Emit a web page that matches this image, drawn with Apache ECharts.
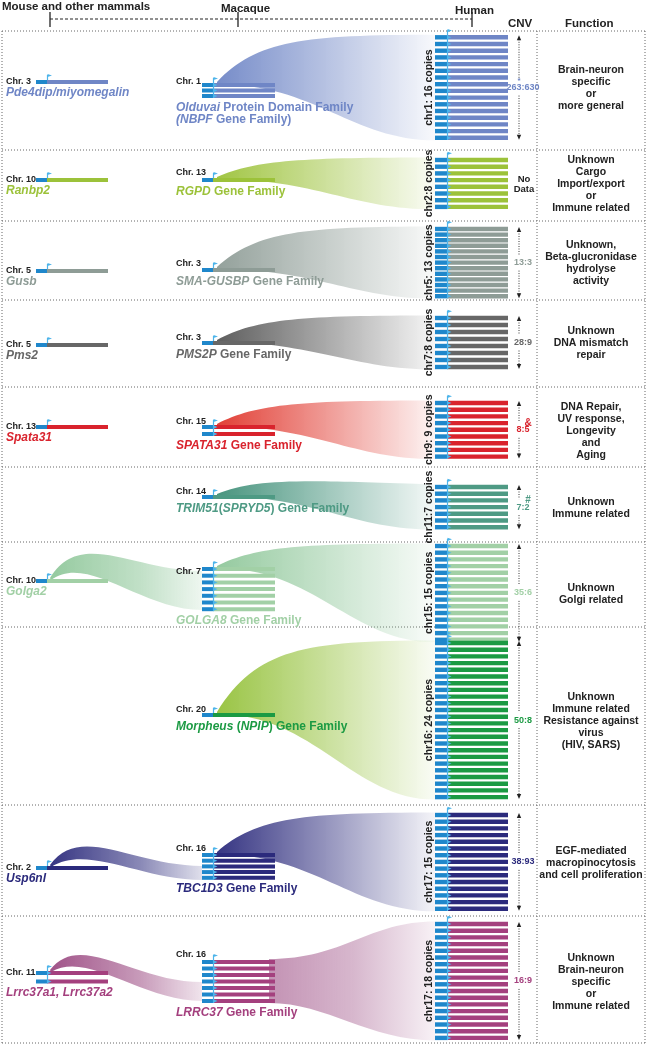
<!DOCTYPE html>
<html><head><meta charset="utf-8">
<script src="https://cdn.jsdelivr.net/npm/echarts@6/dist/echarts.min.js"></script>
<style>html,body{margin:0;padding:0;background:#fff}#c{width:650px;height:1045px}</style>
</head><body><div id="c"></div>
<script>
// ---------------- DATA ----------------
const families = ['NBPF','RGPD','SMA-GUSBP','PMS2P','SPATA31','TRIM51','GOLGA8','NPIP','TBC1D3','LRRC37'];
const mouseChr = [3,10,5,5,13,null,10,null,2,11];
const mouseGenes = ['Pde4dip/miyomegalin','Ranbp2','Gusb','Pms2','Spata31','','Golga2','','Usp6nl','Lrrc37a1, Lrrc37a2'];
const mouseCopies = [1,1,1,1,1,0,1,0,1,2];
const macaqueChr = [1,13,3,3,15,14,7,20,16,16];
const macaqueCopies = [3,1,1,1,2,1,7,1,5,7];
const macaqueLabels = [
  '{i|Olduvai}{n| Protein Domain Family}\n{i|(NBPF}{n| Gene Family)}',
  '{i|RGPD}{n| Gene Family}',
  '{i|SMA-GUSBP}{n| Gene Family}',
  '{i|PMS2P}{n| Gene Family}',
  '{i|SPATA31}{n| Gene Family}',
  '{i|TRIM51}{n|(}{i|SPRYD5}{n|) Gene Family}',
  '{i|GOLGA8}{n| Gene Family}',
  '{i|Morpheus}{n| (}{i|NPIP}{n|) Gene Family}',
  '{i|TBC1D3}{n| Gene Family}',
  '{i|LRRC37}{n| Gene Family}'
];
const humanChr = [1,2,5,7,9,11,15,16,17,17];
const humanCopies = [16,8,13,8,9,7,15,24,15,18];
const humanLabels = ['chr1: 16 copies','chr2:8 copies','chr5: 13 copies','chr7:8 copies','chr9: 9 copies',
  'chr11:7 copies','chr15: 15 copies','chr16: 24 copies','chr17: 15 copies','chr17: 18 copies'];
const cnvRatios = ['263:630','No\nData','13:3','28:9','8:5','7:2','35:6','50:8','38:93','16:9'];
const cnvMarks = ['*','','','','&','#','','','',''];
const functions = [
  'Brain-neuron\nspecific\nor\nmore general',
  'Unknown\nCargo\nImport/export\nor\nImmune related',
  'Unknown,\nBeta-glucronidase\nhydrolyse\nactivity',
  'Unknown\nDNA mismatch\nrepair',
  'DNA Repair,\nUV response,\nLongevity\nand\nAging',
  'Unknown\nImmune related',
  'Unknown\nGolgi related',
  'Unknown\nImmune related\nResistance against\nvirus\n(HIV, SARS)',
  'EGF-mediated\nmacropinocytosis\nand cell proliferation',
  'Unknown\nBrain-neuron\nspecific\nor\nImmune related'
];
const stages = ['Mouse and other mammals','Macaque','Human'];
const columnTitles = ['CNV','Function'];

// ---------------- STYLE / LAYOUT ----------------
const colors = ['#6f86c6','#9cc23a','#8e9c96','#676767','#d9232d','#4e9a84','#a2d0a6','#1b9a43','#2b2a7c','#a4407e'];
const ribbonColors = ['#6f86c6','#9cc23a','#8e9c96','#555555','#e0362c','#3f8f78','#8fc79a','#94c13a','#2b2a7c','#9b4a82'];
const BLUE = '#1f87cb', FLAG = '#4db4ea', INK = '#222';
const FAM = '"Liberation Sans", Arial, sans-serif';
const rowEdges = [31,150,221,300,387,467,542,627,805,916,1043];
const mouseY = [82,180,271,345,427,null,581,null,868,973];
const macY = [85,180,270,343,427,497,569,715,855,962];
const macPitch = [5.5,6,6,6,7,6,6.7,6,5.7,6.5];
const humTop = [37.3,160,229,318,403,487,546,643,815,924];
const humPitch = [6.7,6.7,5.6,7,6.7,6.7,6.7,6.7,6.7,6.7];
const macChrDy = [-3,-7,-6,-5,-5,-5,3,-5,-6,-7];
const archEnd = {6:[571,610,50], 8:[866,880,42], 9:[982,1001,40]};
const L = {mx0:36,mx1:47,mx2:108, ax0:202,ax1:213,ax2:275, hx0:435,hx1:447,hx2:508,
  barH:4.4, sBarH:4, cnvX:519, funcX:591, vLabelX:429, chrMouseX:6, chrMacX:176};

function hexA(hex,a){const n=parseInt(hex.slice(1),16);return `rgba(${n>>16&255},${n>>8&255},${n&255},${a})`;}

function buildPath(api, cmds){
  return cmds.map(c=>{
    const nums=[];
    for(let k=1;k<c.length;k+=2){const p=api.coord([c[k],c[k+1]]);nums.push(p[0].toFixed(2)+','+p[1].toFixed(2));}
    return c[0]+nums.join(' ');
  }).join(' ');
}
function rect(api,x0,x1,yc,h,fill){
  const a=api.coord([x0,yc-h/2]), b=api.coord([x1,yc+h/2]);
  return {type:'rect',shape:{x:a[0],y:a[1],width:b[0]-a[0],height:b[1]-a[1]},style:{fill}};
}
function tri(api,x,y,w,h,fill){
  return {type:'polygon',shape:{points:[api.coord([x,y-h/2]),api.coord([x+w,y]),api.coord([x,y+h/2])]},style:{fill}};
}
function vline(api,x,y0,y1,stroke,w,dash){
  const a=api.coord([x,y0]),b=api.coord([x,y1]);
  return {type:'line',shape:{x1:a[0],y1:a[1],x2:b[0],y2:b[1]},style:{stroke,lineWidth:w||1,lineDash:dash||null}};
}
function text(api,x,y,str,font,fill,align,rot,lh){
  const p=api.coord([x,y]);
  return {type:'text',x:p[0],y:p[1],rotation:rot||0,style:{text:str,font,fill,align:align||'left',verticalAlign:'middle',lineHeight:lh||undefined}};
}
function geneBlock(api,ch,x0,x1,x2,y0,n,pitch,h,col){
  for(let j=0;j<n;j++){
    const y=y0+j*pitch;
    ch.push(rect(api,x0,x1,y,h,BLUE));
    ch.push(rect(api,x1,x2,y,h,col));
  }
  const top=y0-h/2, bot=y0+(n-1)*pitch+h/2;
  ch.push(vline(api,x1+0.5,top-5,n>1?bot:top,FLAG,1.2));
  ch.push(tri(api,x1+0.5,top-4.5,4.5,3.2,FLAG));
  if(n>1){for(let j=0;j<n;j++){ch.push(tri(api,x1+1,y0+j*pitch,3.5,2.8,FLAG));}}
}

function renderItem(params, api){
  const i=params.dataIndex;
  const col=colors[i], rc=ribbonColors[i];
  const ch=[];
  const nh=humanCopies[i];
  const hTop=humTop[i], hBot=hTop+(nh-1)*humPitch[i];
  const na=macaqueCopies[i];
  const aTop=macY[i], aBot=aTop+(na-1)*macPitch[i];
  // ribbon macaque -> human
  {
    const ex=L.hx0, eT=hTop-2.5, eB=hBot+2.5;
    let cmds, stops;
    if(i===9){
      const sx=L.ax2-6, sy=aTop-3, syB=aBot+2, dx=ex-sx;
      cmds=[['M',sx,sy],['C',sx+0.45*dx,sy,sx+0.6*dx,eT,ex,eT],['L',ex,eB],
        ['C',sx+0.6*dx,eB,sx+0.35*dx,syB,sx,syB],['Z']];
      stops=[{offset:0,color:hexA(rc,0.6)},{offset:0.5,color:hexA(rc,0.4)},{offset:1,color:hexA(rc,0.08)}];
    } else {
      const sx=L.ax1+4, sy=aTop-3, syB=aTop-1, dx=ex-sx;
      const c1y=Math.min(eT+(sy-eT)*0.12, sy-16), c2y=Math.min(eT, sy-14);
      cmds=[['M',sx,sy],['C',sx+0.18*dx,c1y,sx+0.4*dx,c2y,ex,eT],['L',ex,eB],
        ['C',sx+0.62*dx,eB,sx+0.45*dx,syB,sx,syB],['Z']];
      stops=[{offset:0,color:hexA(rc,0.95)},{offset:0.5,color:hexA(rc,0.5)},{offset:1,color:hexA(rc,0.05)}];
    }
    ch.push({type:'path',shape:{pathData:buildPath(api,cmds)},style:{fill:new echarts.graphic.LinearGradient(0,0,1,0,stops)}});
  }
  // ribbon mouse -> macaque
  if(archEnd[i]){
    const [eT,eB,lift]=archEnd[i];
    const sx=L.mx1+3, sy=mouseY[i]-3, ex=L.ax0, dx=ex-sx;
    const cmds=[['M',sx,sy],['C',sx+0.2*dx,sy-lift,ex-0.45*dx,eT,ex,eT],['L',ex,eB],
      ['C',ex-0.4*dx,eB,sx+0.25*dx,sy-lift*0.5,sx+1,sy+2],['Z']];
    ch.push({type:'path',shape:{pathData:buildPath(api,cmds)},style:{fill:new echarts.graphic.LinearGradient(0,0,1,0,[
      {offset:0,color:hexA(rc,0.95)},{offset:0.6,color:hexA(rc,0.55)},{offset:1,color:hexA(rc,0.15)}])}});
  }
  // mouse
  if(mouseCopies[i]>0){
    geneBlock(api,ch,L.mx0,L.mx1,L.mx2,mouseY[i],mouseCopies[i],8.5,L.sBarH,col);
    ch.push(text(api,L.chrMouseX,mouseY[i],'Chr. '+mouseChr[i],'bold 9px '+FAM,INK));
    const gy=mouseY[i]+(mouseCopies[i]-1)*8.5+11;
    ch.push(text(api,L.chrMouseX,gy,mouseGenes[i],'italic bold 12px '+FAM,col));
  }
  // macaque
  geneBlock(api,ch,L.ax0,L.ax1,L.ax2,aTop,na,macPitch[i],L.sBarH,col);
  ch.push(text(api,L.chrMacX,aTop+macChrDy[i],'Chr. '+macaqueChr[i],'bold 9px '+FAM,INK));
  {
    const p=api.coord([L.chrMacX,aBot+12]);
    const rs={fontFamily:FAM,fontSize:12,fontWeight:'bold',fill:col};
    ch.push({type:'text',x:p[0],y:p[1],style:{text:macaqueLabels[i],align:'left',verticalAlign:'top',
      y:-7,rich:{i:Object.assign({},rs,{fontStyle:'italic',lineHeight:12.5}),n:Object.assign({},rs,{lineHeight:12.5})}}});
  }
  // human
  geneBlock(api,ch,L.hx0,L.hx1,L.hx2,hTop,nh,humPitch[i],L.barH,col);
  const hc=(hTop+hBot)/2;
  ch.push(text(api,L.vLabelX,hc,humanLabels[i],'bold 10.5px '+FAM,INK,'center',Math.PI/2));
  // CNV
  if(cnvRatios[i].indexOf('\n')<0){
    const t=hTop-2, b=hBot+2;
    ch.push(vline(api,L.cnvX,t+4,hc-8,INK,0.9,[1,1.5]));
    ch.push(vline(api,L.cnvX,hc+8,b-4,INK,0.9,[1,1.5]));
    const a1=api.coord([L.cnvX,t]),a2=api.coord([L.cnvX,b]);
    ch.push({type:'polygon',shape:{points:[a1,[a1[0]-2.2,a1[1]+5],[a1[0]+2.2,a1[1]+5]]},style:{fill:INK}});
    ch.push({type:'polygon',shape:{points:[a2,[a2[0]-2.2,a2[1]-5],[a2[0]+2.2,a2[1]-5]]},style:{fill:INK}});
    ch.push(text(api,L.cnvX+4,hc,cnvRatios[i],'bold 9px '+FAM,col,'center'));
    if(cnvMarks[i]==='*') ch.push(text(api,L.cnvX,hc-7,'*','bold 8px '+FAM,col,'center'));
    else if(cnvMarks[i]) ch.push(text(api,L.cnvX+9,hc-7,cnvMarks[i],'bold 10px '+FAM,col,'center'));
  } else {
    ch.push(text(api,L.cnvX+5,hc+1,cnvRatios[i],'bold 9.5px '+FAM,INK,'center',0,10));
  }
  // function
  ch.push(text(api,L.funcX,hc+1,functions[i],'bold 10.5px '+FAM,INK,'center',0,12));
  return {type:'group',children:ch};
}

// ---------------- FRAME / HEADER ----------------
const graphics=[];
const dot={stroke:'#666',lineWidth:1,lineDash:[1,2]};
rowEdges.forEach(y=>graphics.push({type:'line',z:0,shape:{x1:2,y1:y,x2:645,y2:y},style:dot}));
[2,537,645].forEach(x=>graphics.push({type:'line',z:0,shape:{x1:x,y1:rowEdges[0],x2:x,y2:rowEdges[rowEdges.length-1]},style:dot}));
const hf='bold 11.5px '+FAM;
graphics.push({type:'text',left:2,top:1,style:{text:stages[0],font:hf,fill:INK}});
graphics.push({type:'text',left:221,top:3,style:{text:stages[1],font:hf,fill:INK}});
graphics.push({type:'text',left:455,top:5,style:{text:stages[2],font:hf,fill:INK}});
graphics.push({type:'text',left:508,top:18,style:{text:columnTitles[0],font:hf,fill:INK}});
graphics.push({type:'text',left:565,top:18,style:{text:columnTitles[1],font:hf,fill:INK}});
graphics.push({type:'line',shape:{x1:50,y1:19,x2:472,y2:19},style:{stroke:INK,lineWidth:1,lineDash:[3,2]}});
[50,238,472].forEach(x=>graphics.push({type:'line',shape:{x1:x,y1:12,x2:x,y2:27},style:{stroke:INK,lineWidth:1.3}}));

const chart=echarts.init(document.getElementById('c'));
chart.setOption({
  animation:false,
  grid:{left:0,right:0,top:0,bottom:0},
  xAxis:{type:'value',min:0,max:650,show:false},
  yAxis:{type:'value',min:0,max:1045,inverse:true,show:false},
  graphic:graphics,
  series:[{type:'custom',clip:false,renderItem,data:families.map((f,i)=>[i,humanCopies[i]])}]
});
</script></body></html>
